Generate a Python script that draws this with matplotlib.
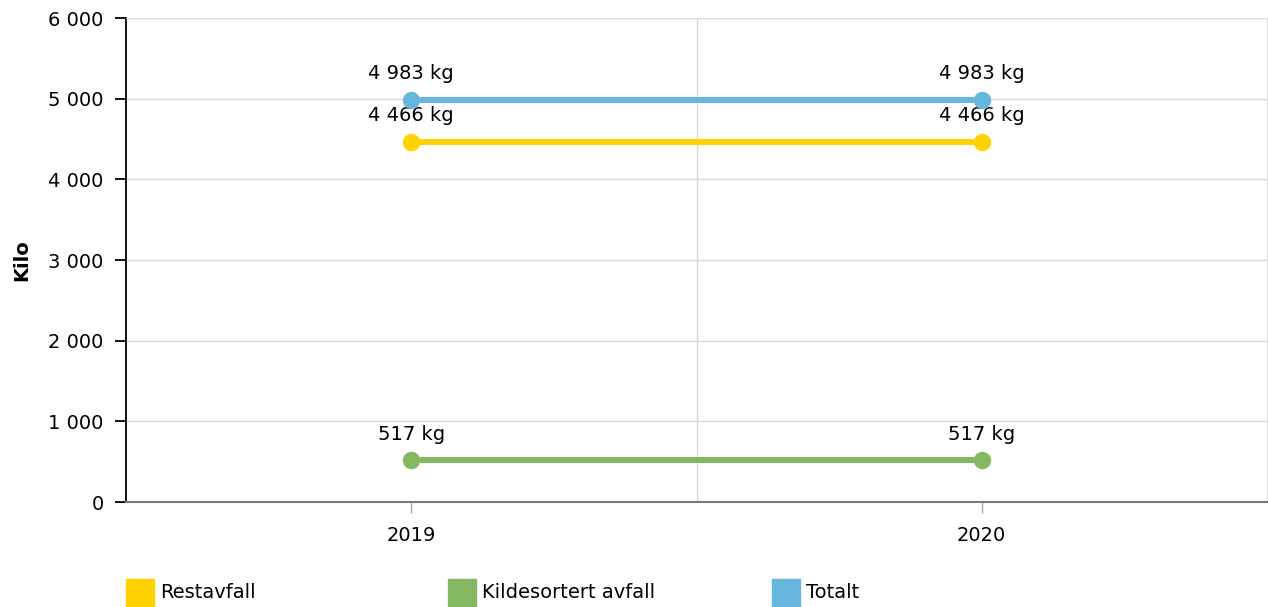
import matplotlib.pyplot as plt
from matplotlib.patches import Rectangle
from matplotlib.ticker import FuncFormatter

years = ["2019", "2020"]
restavfall = [4466, 4466]
kildesortert = [517, 517]
totalt = [4983, 4983]

series_names = ["Restavfall", "Kildesortert avfall", "Totalt"]
series_values = [restavfall, kildesortert, totalt]
series_colors = ["#ffd200", "#84b761", "#67b7dc"]

plt.rcParams['font.family'] = ['DejaVu Sans']
plt.rcParams['font.size'] = 14

fig = plt.figure(figsize=(12.68, 6.07), dpi=100)
ax = fig.add_axes([126 / 1268, 1 - 502 / 607, (1267 - 126) / 1268, (502 - 18) / 607])


def fmt_num(v):
    return "{:,}".format(int(v)).replace(",", " ")


x = list(range(len(years)))
for name, vals, col in zip(series_names, series_values, series_colors):
    ax.plot(x, vals, color=col, lw=4.3, marker="o", markersize=11.5, solid_capstyle="round", zorder=3)
    for xi, v in zip(x, vals):
        ax.annotate(fmt_num(v) + " kg", (xi, v), xytext=(0, 12), textcoords="offset points",
                    ha="center", va="bottom", fontsize=14, color="#000000")

ax.set_xlim(-0.5, 1.5)
ax.set_ylim(0, 6000)
ax.set_yticks(range(0, 6001, 1000))
ax.yaxis.set_major_formatter(FuncFormatter(lambda v, p: fmt_num(v)))
ax.set_xticks(x)
ax.set_xticklabels(years)
ax.set_xticks([0.5], minor=True)

ax.grid(axis="y", color="#d9d9d9", lw=1)
ax.grid(axis="x", which="minor", color="#d9d9d9", lw=1)
ax.set_axisbelow(True)

ax.spines["left"].set_color("#000000")
ax.spines["left"].set_linewidth(1.3)
ax.spines["bottom"].set_color("#777777")
ax.spines["bottom"].set_linewidth(1.5)
ax.spines["top"].set_color("#dddddd")
ax.spines["right"].set_color("#dddddd")

ax.tick_params(axis="y", length=8, width=1.3, color="#000000", pad=8)
ax.tick_params(axis="x", which="major", length=8, width=1, color="#aaaaaa", pad=9)
ax.tick_params(axis="x", which="minor", length=0)

ax.set_ylabel("Kilo", fontweight="bold", fontsize=14, labelpad=12)

# legend along the bottom
legend_x = [126, 448, 772]
for lx, name, col in zip(legend_x, series_names, series_colors):
    fig.patches.append(Rectangle((lx / 1268, 0), 28 / 1268, 28 / 607, transform=fig.transFigure,
                                 color=col, clip_on=False))
    fig.text((lx + 34) / 1268, 14 / 607, name, ha="left", va="center", fontsize=14)

fig.savefig("out.png", dpi=100)
